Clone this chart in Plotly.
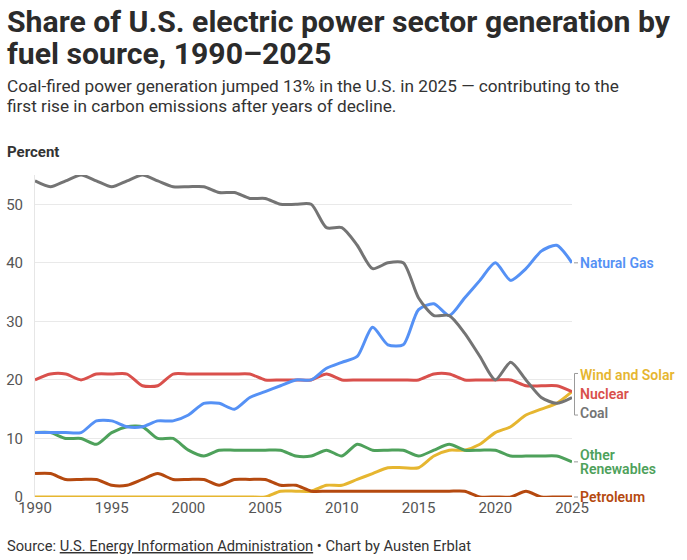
import plotly.graph_objects as go

years = list(range(1990, 2026))

# share of generation, percent
coal = [54, 53, 54, 55, 54, 53, 54, 55, 54, 53, 53, 53, 52, 52, 51, 51, 50, 50,
        50, 46, 46, 43, 39, 40, 40, 34, 31, 31, 28, 24, 20, 23, 20, 17, 16, 17]
natural_gas = [11, 11, 11, 11, 13, 13, 12, 12, 13, 13, 14, 16, 16, 15, 17, 18, 19, 20,
               20, 22, 23, 24, 29, 26, 26, 32, 33, 31, 34, 37, 40, 37, 39, 42, 43, 40]
nuclear = [20, 21, 21, 20, 21, 21, 21, 19, 19, 21, 21, 21, 21, 21, 21, 20, 20, 20,
           20, 21, 20, 20, 20, 20, 20, 20, 21, 21, 20, 20, 20, 20, 19, 19, 19, 18]
wind_solar = [0, 0, 0, 0, 0, 0, 0, 0, 0, 0, 0, 0, 0, 0, 0, 0, 1, 1,
              1, 2, 2, 3, 4, 5, 5, 5, 7, 8, 8, 9, 11, 12, 14, 15, 16, 18]
other_renew = [11, 11, 10, 10, 9, 11, 12, 12, 10, 10, 8, 7, 8, 8, 8, 8, 8, 7,
               7, 8, 7, 9, 8, 8, 8, 7, 8, 9, 8, 8, 8, 7, 7, 7, 7, 6]
petroleum = [4, 4, 3, 3, 3, 2, 2, 3, 4, 3, 3, 3, 2, 3, 3, 3, 2, 2,
             1, 1, 1, 1, 1, 1, 1, 1, 1, 1, 1, 0, 0, 0, 1, 0, 0, 0]

# name, values, colour, label lines as (text, y)
series = [
    ("Wind and Solar", wind_solar, "#e6b630", [("Wind and Solar", 20.9)]),
    ("Petroleum", petroleum, "#b5490f", [("Petroleum", 0)]),
    ("Other Renewables", other_renew, "#4ea15b", [("Other", 7.2), ("Renewables", 4.8)]),
    ("Nuclear", nuclear, "#d9504c", [("Nuclear", 17.6)]),
    ("Natural Gas", natural_gas, "#5591f5", [("Natural Gas", 40)]),
    ("Coal", coal, "#747474", [("Coal", 14.4)]),
]

YMAX = 55
FONT = "Roboto"
# plot box in pixels: left 35, width 537, bottom 497, height 322
PW, PH = 537, 322


def xp(px):
    return (px - 35) / PW


def ypx(py):
    return (497 - py) / PH


def yp(v):
    return v / YMAX


fig = go.Figure()
for name, vals, col, labels in series:
    fig.add_trace(go.Scatter(x=years, y=vals, mode="lines", name=name,
                             line=dict(color=col, width=3, shape="spline", smoothing=0.7),
                             cliponaxis=False, showlegend=False))
    for txt, ly in labels:
        fig.add_annotation(x=2025, y=ly, xref="x", yref="y", text=txt, showarrow=False,
                           xanchor="left", xshift=6, align="left",
                           font=dict(family=FONT, size=14, color=col, weight=600))

# little dashes from line ends to labels
for v in [40, 6, 0]:
    fig.add_shape(type="line", xref="paper", yref="paper", x0=xp(574), x1=xp(578),
                  y0=yp(v), y1=yp(v), line=dict(color="#9a9a9a", width=1))

# bracket for the crowded labels
top, bot = 21.1, 14.0
fig.add_shape(type="path", xref="paper", yref="paper",
              path=f"M {xp(578)} {yp(top)} L {xp(574.5)} {yp(top)} L {xp(574.5)} {yp(bot)} L {xp(578)} {yp(bot)}",
              line=dict(color="#9a9a9a", width=1))

texts = [
    ("<b>Share of U.S. electric power sector generation by</b>", 21, 30.2, "#2b2b2b"),
    ("<b>fuel source, 1990\u20132025</b>", 53, 30.2, "#2b2b2b"),
    ("Coal-fired power generation jumped 13% in the U.S. in 2025 \u2014 contributing to the", 86, 17.2, "#333"),
    ("first rise in carbon emissions after years of decline.", 106, 17.2, "#333"),
    ("<b>Percent</b>", 152, 15, "#333"),
    ("Source: <u>U.S. Energy Information Administration</u> \u2022 Chart by Austen Erblat", 546, 14.7, "#333"),
]
for t, py, size, col in texts:
    fig.add_annotation(xref="paper", yref="paper", x=xp(5), y=ypx(py), text=t,
                       showarrow=False, xanchor="left", yanchor="middle", align="left",
                       font=dict(family=FONT, size=size, color=col))

fig.update_layout(
    width=687, height=560,
    margin=dict(l=35, r=115, t=175, b=63),
    paper_bgcolor="white", plot_bgcolor="white",
    font=dict(family=FONT, color="#555"),
    xaxis=dict(range=[1990, 2025], tickvals=list(range(1990, 2026, 5)), showgrid=False,
               zeroline=False, showline=False, ticks="", automargin=False,
               tickfont=dict(size=15, color="#555")),
    yaxis=dict(range=[0, YMAX], tickvals=[0, 10, 20, 30, 40, 50], gridcolor="#e9e9e9",
               gridwidth=1, zeroline=False, showline=True, linecolor="#e6e6e6",
               ticks="", ticklabelstandoff=8, automargin=False,
               tickfont=dict(size=15, color="#555")),
    hovermode=False,
)

# page body has a default margin; drop it so the figure sits at the corner
fig.write_html("out.html", config={"displayModeBar": False},
               post_script="document.body.style.margin='0';document.body.style.overflow='hidden';")
